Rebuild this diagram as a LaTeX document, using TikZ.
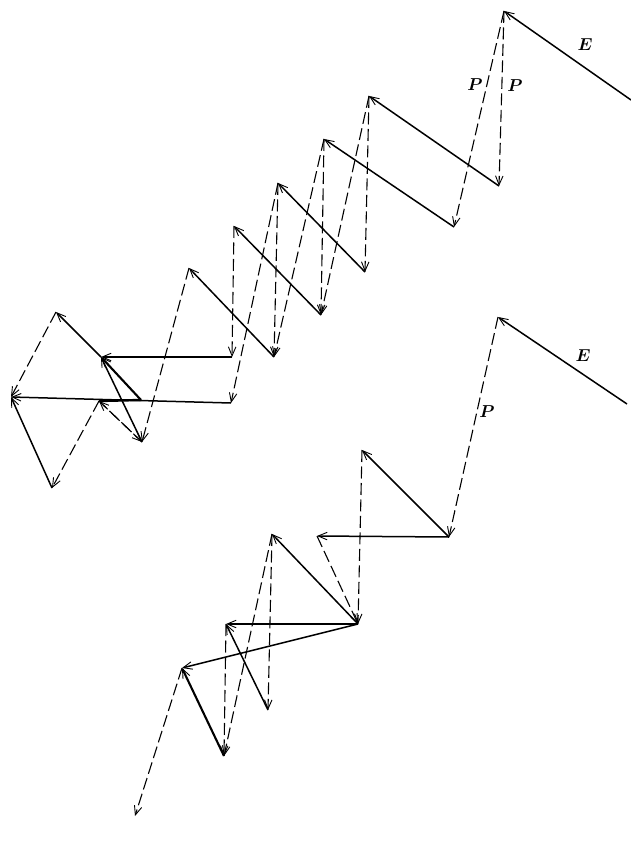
\documentclass[tikz,border=0pt]{standalone}
\usepackage{xcolor}
\usepackage{tikz}
\usetikzlibrary{arrows.meta}

\begin{document}
\begin{tikzpicture}[
    x=1pt,
    y=-1pt,
    field/.style={
        line width=1.5pt,
        -{Straight Barb[length=9pt,width=7.5pt,line width=0.9pt]}
    },
    heavy/.style={
        field,
        line width=2.1pt
    },
    pol/.style={
        line width=1.1pt,
        dash pattern=on 12pt off 4.5pt,
        -{Straight Barb[length=9pt,width=7.5pt,line width=0.9pt]}
    },
    tag/.style={
        font=\fontsize{19}{21}\selectfont\boldmath,
        inner sep=0pt
    }
]
\useasboundingbox (0,0) rectangle (631,845);

% Upper construction
\coordinate (u0) at (631,100);
\coordinate (ua) at (504,11);
\coordinate (ub) at (499,186);
\coordinate (uc) at (454,227);
\coordinate (ud) at (369,96);
\coordinate (ue) at (324,139);
\coordinate (uf) at (365,272);
\coordinate (ug) at (321,315);
\coordinate (uh) at (278,183);
\coordinate (ui) at (234,226);
\coordinate (uj) at (274,357);
\coordinate (uk) at (232,357);
\coordinate (ul) at (231,403);
\coordinate (um) at (189,268);
\coordinate (un) at (142,442);
\coordinate (uo) at (101,357);
\coordinate (up) at (11,397);
\coordinate (uq) at (141,400);
\coordinate (ur) at (56,312);
\coordinate (us) at (52,488);
\coordinate (ut) at (99,401);

% Lower construction
\coordinate (l0) at (627,404);
\coordinate (la) at (498,317);
\coordinate (lb) at (449,537);
\coordinate (lc) at (362,450);
\coordinate (ld) at (317,536);
\coordinate (le) at (358,624);
\coordinate (lf) at (272,534);
\coordinate (lg) at (226,624);
\coordinate (lh) at (182,668);
\coordinate (li) at (268,710);
\coordinate (lj) at (224,756);
\coordinate (lk) at (135,816);

% Upper arrows
\draw[field] (u0) -- (ua);
\draw[pol] (ua) -- (ub);
\draw[pol] (ua) -- (uc);
\draw[field] (ub) -- (ud);
\draw[field] (uc) -- (ue);
\draw[pol] (ud) -- (uf);
\draw[pol] (ud) -- (ug);
\draw[pol] (ue) -- (ug);
\draw[pol] (ue) -- (uj);
\draw[field] (uf) -- (uh);
\draw[field] (ug) -- (ui);
\draw[pol] (uh) -- (uj);
\draw[pol] (uh) -- (ul);
\draw[pol] (ui) -- (uk);
\draw[field] (uj) -- (um);
\draw[pol] (um) -- (un);
\draw[field] (uk) -- (uo);
\draw[field] (ul) -- (up);
\draw[field] (un) -- (uo);
\draw[heavy] (uq) -- (uo);
\draw[field] (uo) -- (ur);
\draw[pol] (ur) -- (up);
\draw[field] (us) -- (up);
\draw[pol] (ut) -- (us);
\draw[pol] (un) -- (ut);
\draw[pol] (ut) -- (un);
\draw[line width=2.4pt] (ut) -- (uq);

% Lower arrows
\draw[field] (l0) -- (la);
\draw[pol] (la) -- (lb);
\draw[field] (lb) -- (lc);
\draw[field] (lb) -- (ld);
\draw[pol] (lc) -- (le);
\draw[pol] (ld) -- (le);
\draw[field] (le) -- (lf);
\draw[field] (le) -- (lg);
\draw[field] (le) -- (lh);
\draw[pol] (lf) -- (li);
\draw[pol] (lf) -- (lj);
\draw[pol] (lg) -- (lj);
\draw[field] (li) -- (lg);
\draw[heavy] (lj) -- (lh);
\draw[pol] (lh) -- (lk);

% Labels
\node[tag] (e1) at (585,45) {$E$};
\node[tag] (p1) at (475,85) {$P$};
\node[tag] (p2) at (515,86) {$P$};
\node[tag] (e2) at (583,356) {$E$};
\node[tag] (p3) at (487,412) {$P$};

\end{tikzpicture}
\end{document}
